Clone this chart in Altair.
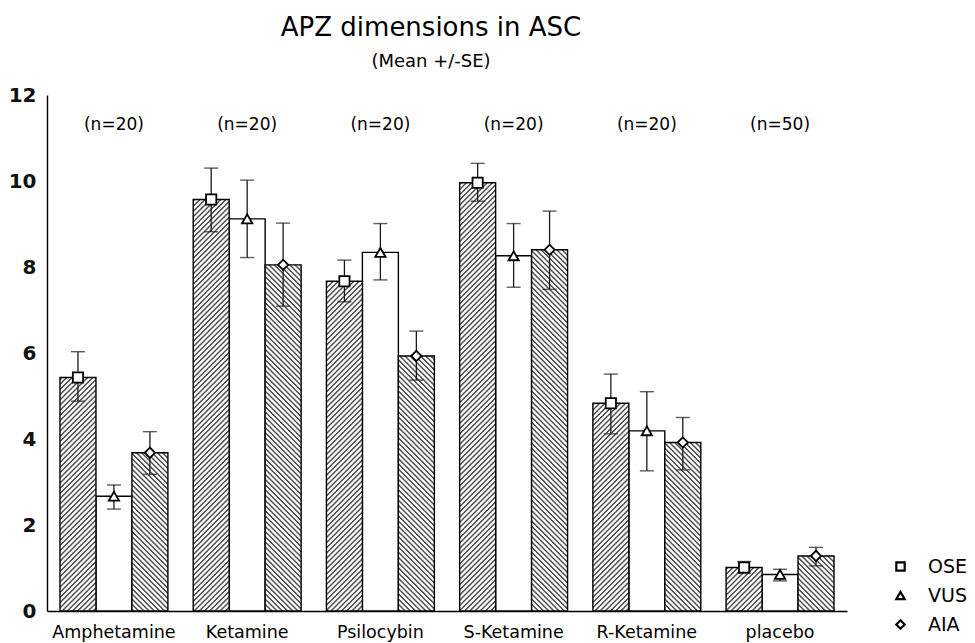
import altair as alt
import pandas as pd

# ---------------- data ----------------
drugs = ["Amphetamine", "Ketamine", "Psilocybin", "S-Ketamine", "R-Ketamine", "placebo"]
n_labels = ["(n=20)", "(n=20)", "(n=20)", "(n=20)", "(n=20)", "(n=50)"]
dims = ["OSE", "VUS", "AIA"]
shapes = ["square", "triangle-up", "diamond"]

ose_mean = [5.43, 9.57, 7.67, 9.96, 4.83, 1.01]
ose_hi = [6.03, 10.30, 8.16, 10.41, 5.51, 1.15]
ose_lo = [4.88, 8.82, 7.19, 9.53, 4.12, 0.88]

vus_mean = [2.67, 9.12, 8.34, 8.26, 4.19, 0.85]
vus_hi = [2.93, 10.02, 9.01, 9.01, 5.10, 0.97]
vus_lo = [2.37, 8.22, 7.70, 7.53, 3.26, 0.70]

aia_mean = [3.68, 8.05, 5.93, 8.40, 3.92, 1.28]
aia_hi = [4.17, 9.02, 6.51, 9.30, 4.50, 1.48]
aia_lo = [3.18, 7.09, 5.37, 7.48, 3.28, 1.05]

series = {
    "OSE": (ose_mean, ose_lo, ose_hi),
    "VUS": (vus_mean, vus_lo, vus_hi),
    "AIA": (aia_mean, aia_lo, aia_hi),
}
rows = []
for d in dims:
    m, lo, hi = series[d]
    for i, drug in enumerate(drugs):
        rows.append({"drug": drug, "dim": d, "mean": m[i], "lo": lo[i], "hi": hi[i]})
df = pd.DataFrame(rows)
ndf = pd.DataFrame({"drug": drugs, "n": n_labels})

# ---------------- layout / style ----------------
FONT = "DejaVu Sans"
W, H = 800, 516
YMAX = 12
PI, PO = 0.19, 0.0975
step = W / (len(drugs) - PI + 2 * PO)
barw = step * (1 - PI) / 3


def hatch(value, direction):
    """Striped linear gradient giving 45-degree hatching inside one bar."""
    h = max(value / YMAX * H, 1.0)
    w = barw
    r = h / w
    k = (1 + r) / (1 + r * r)
    if direction == "/":
        x1, y1, x2, y2 = 0, 0, k, k * r
    else:
        x1, y1, x2, y2 = 0, 1, k, 1 - k * r
    period = 5.2 / (w + h)
    dark = "#555555"
    stops = []
    t = 0.0
    while t < 1:
        for frac, col in ((0.0, "#ffffff"), (0.2, dark), (0.4, dark), (0.62, "#ffffff")):
            off = min(t + frac * period, 1.0)
            stops.append({"offset": round(off, 5), "color": col})
        t += period
    stops.append({"offset": 1.0, "color": "#ffffff"})
    return {"gradient": "linear", "x1": x1, "y1": y1, "x2": x2, "y2": y2, "stops": stops}


xaxis = alt.Axis(title=None, labelAngle=0, ticks=False, domainColor="black", domainWidth=1.4,
                 labelFont=FONT, labelFontSize=17.5, labelColor="black", labelPadding=12)
yaxis = alt.Axis(title=None, values=[0, 2, 4, 6, 8, 10, 12], ticks=False, grid=False,
                 domainColor="black", domainWidth=1.4, labelFont=FONT, labelFontSize=20,
                 labelFontWeight="bold", labelColor="#111111", labelPadding=11)

X = alt.X("drug:N", sort=drugs, scale=alt.Scale(domain=drugs, paddingInner=PI, paddingOuter=PO), axis=xaxis)
XO = alt.XOffset("dim:N", sort=dims, scale=alt.Scale(domain=dims, paddingInner=0, paddingOuter=0))
yscale = alt.Scale(domain=[0, YMAX], nice=False)
shape_scale = alt.Scale(domain=dims, range=shapes)

base = alt.Chart(df).encode(x=X, xOffset=XO)

layers = []
# plain (white) VUS bars
layers.append(
    base.transform_filter(alt.datum.dim == "VUS")
    .mark_bar(fill="white", stroke="black", strokeWidth=1.4)
    .encode(y=alt.Y("mean:Q", scale=yscale, axis=yaxis))
)
# hatched OSE ("/") and AIA ("\") bars, one gradient per bar
for d, direction in (("OSE", "/"), ("AIA", "\\")):
    m = series[d][0]
    for i, drug in enumerate(drugs):
        layers.append(
            base.transform_filter((alt.datum.dim == d) & (alt.datum.drug == drug))
            .mark_bar(fill=hatch(m[i], direction), stroke="black", strokeWidth=1.4)
            .encode(y=alt.Y("mean:Q", scale=yscale, axis=yaxis))
        )

# error bars
layers.append(
    base.mark_rule(color="#1a1a1a", strokeWidth=1.3)
    .encode(y=alt.Y("lo:Q", scale=yscale, axis=yaxis), y2="hi:Q")
)
for col in ("lo", "hi"):
    layers.append(
        base.mark_tick(color="#1a1a1a", size=14, thickness=1.4)
        .encode(y=alt.Y(f"{col}:Q", scale=yscale, axis=yaxis))
    )

# markers: white interiors (one layer per series, no shape channel) ...
for d, shp in zip(dims, shapes):
    layers.append(
        base.transform_filter(alt.datum.dim == d)
        .mark_point(filled=True, color="white", shape=shp, size=100, opacity=1)
        .encode(y=alt.Y("mean:Q", scale=yscale, axis=yaxis))
    )
# ... and black outlines (this layer carries the legend)
layers.append(
    base.mark_point(filled=False, color="black", strokeWidth=1.8, size=105, opacity=1)
    .encode(
        y=alt.Y("mean:Q", scale=yscale, axis=yaxis),
        shape=alt.Shape(
            "dim:N", sort=dims, scale=shape_scale,
            legend=alt.Legend(
                title=None, orient="none", legendX=844, legendY=462,
                labelFont=FONT, labelFontSize=19, labelColor="black",
                labelOffset=18, rowPadding=9, symbolSize=70,
                symbolStrokeColor="black", symbolStrokeWidth=2.2,
            ),
        ),
    )
)

# n labels
layers.append(
    alt.Chart(ndf).mark_text(font=FONT, fontSize=17, color="black")
    .encode(x=X, y=alt.datum(11.3), text="n:N")
)

chart = (
    alt.layer(*layers)
    .properties(
        width=W, height=H,
        autosize="none",
        padding={"left": 47, "top": 95, "right": 128, "bottom": 32},
        title=alt.TitleParams(
            text="APZ dimensions in ASC", subtitle="(Mean +/-SE)",
            anchor="middle", dx=-16, font=FONT, fontSize=26, fontWeight="normal", color="black",
            subtitleFont=FONT, subtitleFontSize=18, subtitleColor="black", subtitlePadding=12,
            offset=14,
        ),
    )
    .configure_view(stroke=None)
)

chart.save("out.html", embed_options={"renderer": "svg", "actions": False})
